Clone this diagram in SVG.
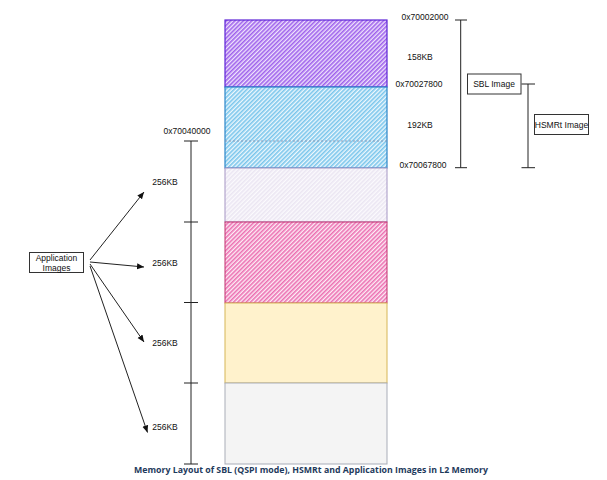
<svg xmlns="http://www.w3.org/2000/svg" width="607" height="480" viewBox="0 0 607 480">
<style>
.t{font-family:"Liberation Sans",Arial,sans-serif;font-size:8.5px;fill:#111;text-anchor:middle;dominant-baseline:central}
.ln{stroke:#222;stroke-width:1;fill:none}
.box{fill:#fff;stroke:#333;stroke-width:1}
.cap{font-family:"Open Sans","Noto Sans",sans-serif;font-size:9px;font-weight:bold;fill:#1e3a5c}
</style>
<defs>
<pattern id="hp" width="3" height="3" patternUnits="userSpaceOnUse" patternTransform="rotate(45)"><rect width="3" height="3" fill="#efe4fc"/><rect width="1.6" height="3" fill="#9f62ec"/></pattern>
<pattern id="hb" width="3" height="3" patternUnits="userSpaceOnUse" patternTransform="rotate(45)"><rect width="3" height="3" fill="#eef8fd"/><rect width="1.6" height="3" fill="#7ac6ec"/></pattern>
<pattern id="hl" width="3" height="3" patternUnits="userSpaceOnUse" patternTransform="rotate(45)"><rect width="3" height="3" fill="#fbfafd"/><rect width="1.6" height="3" fill="#ebe6f2"/></pattern>
<pattern id="hk" width="3" height="3" patternUnits="userSpaceOnUse" patternTransform="rotate(45)"><rect width="3" height="3" fill="#fdeef6"/><rect width="1.6" height="3" fill="#ec70b2"/></pattern>
<marker id="ah" markerWidth="8" markerHeight="8" refX="7" refY="4" orient="auto" markerUnits="userSpaceOnUse"><path d="M0,1 L7,4 L0,7 Z" fill="#111"/></marker>
</defs>
<g id="mem-sbl"><rect x="225" y="20" width="162" height="67" fill="url(#hp)" stroke="#5d23d6" stroke-width="1.2"/></g>
<g id="mem-hsmrt"><rect x="225" y="87" width="162" height="81" fill="url(#hb)" stroke="#2c86c8" stroke-width="1.2"/><line x1="225" y1="141" x2="387" y2="141" stroke="#8a9ab8" stroke-width="1" stroke-dasharray="2,2"/></g>
<g id="mem-app1"><rect x="225" y="168" width="162" height="54" fill="url(#hl)" stroke="#a596c4" stroke-width="1"/></g>
<g id="mem-app2"><rect x="225" y="222" width="162" height="81" fill="url(#hk)" stroke="#c2306f" stroke-width="1"/></g>
<g id="mem-app3"><rect x="225" y="303" width="162" height="80" fill="#fff2cc" stroke="#d6b656" stroke-width="1"/></g>
<g id="mem-app4"><rect x="225" y="383" width="162" height="81" fill="#f4f4f4" stroke="#a9adb8" stroke-width="1"/></g>
<g id="labels">
<text class="t" x="425" y="17">0x70002000</text>
<text class="t" x="420" y="57">158KB</text>
<text class="t" x="419" y="84">0x70027800</text>
<text class="t" x="420" y="125">192KB</text>
<text class="t" x="423" y="165">0x70067800</text>
<text class="t" x="187" y="131">0x70040000</text>
<text class="t" x="165" y="182">256KB</text>
<text class="t" x="165" y="263">256KB</text>
<text class="t" x="165" y="343">256KB</text>
<text class="t" x="165" y="427">256KB</text>
</g>
<g id="ruler-left">
<path class="ln" d="M191,141 V464 M184,141 H198 M184,222 H198 M184,302.5 H198 M184,383 H198 M184,464 H198"/>
</g>
<g id="bracket-sbl"><path class="ln" d="M460.7,20 V167.7 M455,20 H467 M455,167.7 H467"/></g>
<g id="bracket-hsmrt"><path class="ln" d="M528,84 V167.7 M521.5,84 H535 M521.5,167.7 H535"/></g>
<g id="sbl-image"><rect class="box" x="467.5" y="74" width="53.5" height="20"/><text class="t" x="494" y="84">SBL Image</text></g>
<g id="hsmrt-image"><rect class="box" x="534.5" y="114.5" width="54" height="20"/><text class="t" x="561.5" y="124.5">HSMRt Image</text></g>
<g id="app-images"><rect class="box" x="29.5" y="252.5" width="54" height="20"/><text class="t" x="56.5" y="257.5">Application</text><text class="t" x="56.5" y="267.5">Images</text></g>
<g id="connectors" stroke="#222" stroke-width="1" fill="none">
<line x1="90" y1="260" x2="144" y2="192" marker-end="url(#ah)"/>
<line x1="90" y1="262" x2="144" y2="267" marker-end="url(#ah)"/>
<line x1="90" y1="264" x2="144" y2="342" marker-end="url(#ah)"/>
<line x1="90" y1="266" x2="147.5" y2="432.5" marker-end="url(#ah)"/>
</g>
<text class="cap" x="134" y="473" textLength="354" lengthAdjust="spacingAndGlyphs">Memory Layout of SBL (QSPI mode), HSMRt and Application Images in L2 Memory</text>
</svg>
